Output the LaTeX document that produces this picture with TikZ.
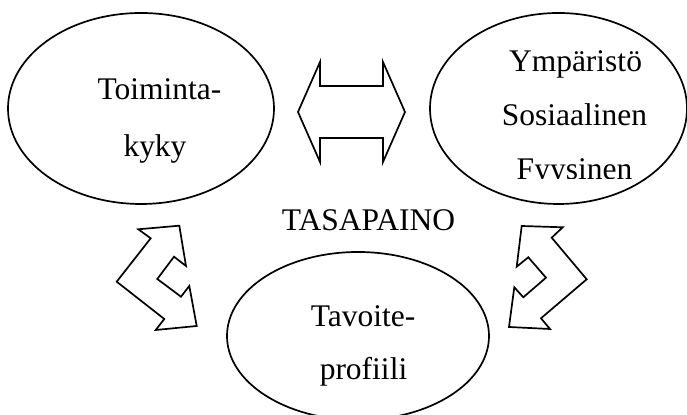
\documentclass[tikz,border=0pt]{standalone}
\usepackage{fontspec}
\setmainfont{Liberation Serif}
\begin{document}
\begin{tikzpicture}[x=0.5pt,y=-0.5pt,
  outline/.style={draw=black,line width=0.85pt,line join=miter},
  label/.style={anchor=base,inner sep=0pt,font=\fontsize{15.75}{18}\selectfont}]
\useasboundingbox (0,0) rectangle (687,415);
\fill[white] (0,0) rectangle (687,415);

% the three ellipses
\draw[outline] (141,108.5) ellipse [x radius=133, y radius=95.5];
\draw[outline] (558.5,108.5) ellipse [x radius=128.5, y radius=95.5];
\draw[outline] (358,336) ellipse [x radius=131, y radius=84];

% texts
\node[label] (t1) at (159.5,100) {Toiminta-};
\node[label] (t2) at (155,157) {kyky};
\node[label] (y1) at (575.5,72) {Ympäristö};
\node[label] (y2) at (574.5,126) {Sosiaalinen};
\begin{scope}
  \clip (430,140) rectangle (687,179);
  \node[label] (y3) at (574.5,180) {Fyysinen};
\end{scope}
\node[label] (mid) at (368.5,231) {TASAPAINO};
\node[label] (p1) at (363,327) {Tavoite-};
\node[label] (p2) at (363.5,380) {profiili};

% horizontal double arrow
\draw[outline] (298,112) -- (320,62) -- (320,86) -- (383,86) -- (383,62)
  -- (405,112) -- (383,162) -- (383,138) -- (320,138) -- (320,162) -- cycle;

% bent double arrow, left
\draw[outline] (138.3,229.3) -- (179.3,225.7) -- (186,266) -- (174,256.7)
  -- (157.3,279) -- (181,296.7) -- (189.3,286) -- (196.7,326) -- (155.7,330)
  -- (164.3,319) -- (116.7,281.7) -- (150.7,238.3) -- cycle;

% bent double arrow, right
\draw[outline] (521.7,226) -- (562.7,227.3) -- (551.7,237.7) -- (586.7,279.3)
  -- (541,318.3) -- (550,329) -- (509,327) -- (514.3,287.3) -- (523.3,297.3)
  -- (546,277.7) -- (528.3,257.3) -- (516.7,266.7) -- cycle;
\end{tikzpicture}
\end{document}
